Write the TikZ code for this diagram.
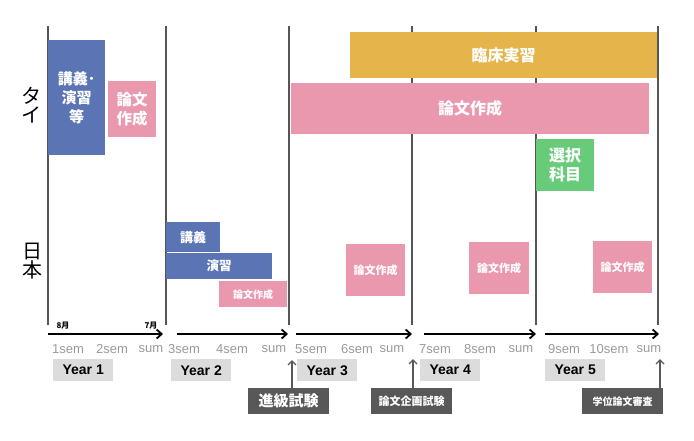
\documentclass[tikz,border=0pt]{standalone}
\usepackage{fontspec}
\setmainfont{Liberation Sans}
\newfontfamily\jp{Noto Sans CJK JP}
\usetikzlibrary{arrows.meta}
\definecolor{cblue}{HTML}{5B74B4}
\definecolor{cpink}{HTML}{EA98AE}
\definecolor{cgold}{HTML}{E5B44B}
\definecolor{cgreen}{HTML}{68CB79}
\definecolor{cyear}{HTML}{DCDCDC}
\definecolor{cdark}{HTML}{585858}
\definecolor{csem}{HTML}{9A9A9A}
\definecolor{cline}{HTML}{555555}
\tikzset{
  box/.style={anchor=north west, inner sep=0pt, text=white, align=center},
  jpb/.style 2 args={font=\jp\bfseries\fontsize{#1}{#2}\selectfont},
  vline/.style={draw=cline, line width=1.1pt},
  tl/.style={draw=black, line width=2pt, -{Straight Barb[length=5pt,width=9pt,line width=1.8pt]}},
  sem/.style={text=csem, font=\fontsize{13}{15}\selectfont, inner sep=0pt},
  yearbox/.style={anchor=north west, inner sep=0pt, fill=cyear, minimum width=60pt, minimum height=22pt, font=\bfseries\fontsize{14}{16}\selectfont},
  darkbox/.style={anchor=north west, inner sep=0pt, fill=cdark, text=white, minimum width=81pt, minimum height=26pt},
  uparrow/.style={draw=cdark, line width=1.6pt, -{Straight Barb[length=4pt,width=8pt,line width=1.4pt]}},
  month/.style={font=\jp\bfseries\fontsize{8}{9}\selectfont, inner sep=0pt},
  country/.style={font=\jp\fontsize{20}{19.5}\selectfont, align=center, inner sep=0pt}
}
\begin{document}
\begin{tikzpicture}[x=1pt,y=-1pt]
\useasboundingbox (0,0) rectangle (694,440);
% vertical lines
\foreach \x in {48,166,289,412,536,658} \draw[vline] (\x,26) -- (\x,325);
% country labels
\node[country] (thai) at (31,105) {タ\\イ};
\node[country] (japan) at (32,261) {日\\本};
% Thai boxes
\node[box, fill=cblue, minimum width=57pt, minimum height=115pt, jpb={15}{19}] (t1) at (48,40) {講義･\\演習\\等};
\node[box, fill=cpink, minimum width=48pt, minimum height=56pt, jpb={15.5}{19}] (t2) at (108,81) {論文\\作成};
\node[box, fill=cgold, minimum width=307pt, minimum height=46pt, jpb={16}{19}] (t3) at (350,32) {臨床実習};
\node[box, fill=cpink, minimum width=358pt, minimum height=51pt, jpb={16}{19}] (t4) at (291,83) {論文作成};
\node[box, fill=cgreen, minimum width=58pt, minimum height=52pt, jpb={16}{19}] (t5) at (536,139) {選択\\科目};
% Japan boxes
\node[box, fill=cblue, minimum width=54pt, minimum height=30pt, jpb={13}{15}] (j1) at (166,222) {講義};
\node[box, fill=cblue, minimum width=106pt, minimum height=26pt, jpb={12.5}{15}] (j2) at (166,253) {演習};
\node[box, fill=cpink, minimum width=68pt, minimum height=26pt, jpb={10}{12}] (j3) at (219,281) {論文作成};
\node[box, fill=cpink, minimum width=59pt, minimum height=52pt, jpb={11}{13}] (j4) at (346,244) {論文作成};
\node[box, fill=cpink, minimum width=60pt, minimum height=52pt, jpb={11}{13}] (j5) at (469,242) {論文作成};
\node[box, fill=cpink, minimum width=59pt, minimum height=52pt, jpb={11}{13}] (j6) at (593,241) {論文作成};
% months
\node[month] (m8) at (63,326) {8月};
\node[month] (m7) at (151,326) {7月};
% timeline arrows
\coordinate (a1s) at (48,334); \coordinate (a1e) at (163,334);
\coordinate (a2s) at (177,334); \coordinate (a2e) at (288,334);
\coordinate (a3s) at (296,334); \coordinate (a3e) at (412,334);
\coordinate (a4s) at (424,334); \coordinate (a4e) at (536,334);
\coordinate (a5s) at (545,334); \coordinate (a5e) at (659,334);
\draw[tl] (a1s) -- (a1e);
\draw[tl] (a2s) -- (a2e);
\draw[tl] (a3s) -- (a3e);
\draw[tl] (a4s) -- (a4e);
\draw[tl] (a5s) -- (a5e);
% semester labels
\node[sem] (s1) at (68,349) {1sem};
\node[sem] (s2) at (112,349) {2sem};
\node[sem] (s3) at (151,349) {sum};
\node[sem] (s4) at (184,349) {3sem};
\node[sem] (s5) at (232,349) {4sem};
\node[sem] (s6) at (274,349) {sum};
\node[sem] (s7) at (311,349) {5sem};
\node[sem] (s8) at (357,349) {6sem};
\node[sem] (s9) at (392,349) {sum};
\node[sem] (s10) at (435,349) {7sem};
\node[sem] (s11) at (480,349) {8sem};
\node[sem] (s12) at (521,349) {sum};
\node[sem] (s13) at (564,349) {9sem};
\node[sem] (s14) at (609,349) {10sem};
\node[sem] (s15) at (649,349) {sum};
% year boxes
\node[yearbox] (y1) at (53,359) {Year 1};
\node[yearbox] (y2) at (171,359) {Year 2};
\node[yearbox] (y3) at (297,359) {Year 3};
\node[yearbox] (y4) at (420,359) {Year 4};
\node[yearbox] (y5) at (545,359) {Year 5};
% exam boxes
\node[darkbox, jpb={15}{17}] (e1) at (248,388) {進級試験};
\node[darkbox, jpb={11}{13}] (e2) at (371,388) {論文企画試験};
\node[darkbox, jpb={10}{12}] (e3) at (582,388) {学位論文審査};
\coordinate (p1) at (292,360);
\coordinate (p2) at (413,359);
\coordinate (p3) at (660,359);
\draw[uparrow] (e1.north -| p1) -- (p1);
\draw[uparrow] (e2.north -| p2) -- (p2);
\draw[uparrow] (e3.north -| p3) -- (p3);
\end{tikzpicture}
\end{document}
